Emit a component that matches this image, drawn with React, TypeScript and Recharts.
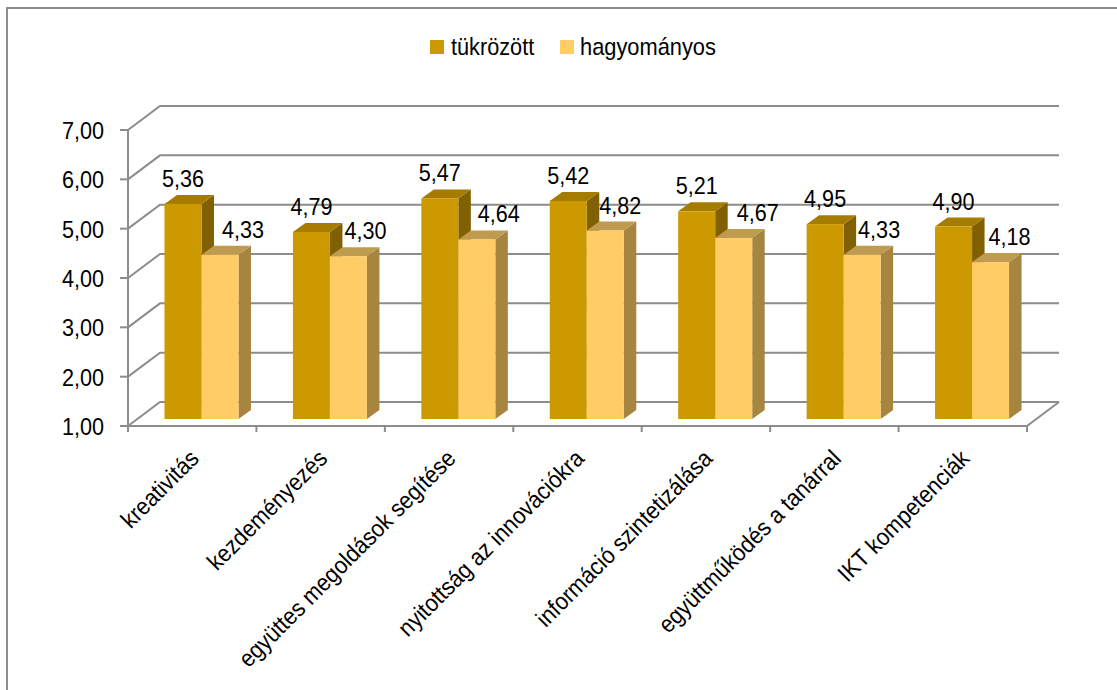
import React from 'react';
import { BarChart, Bar, XAxis, YAxis, CartesianGrid, Legend, LabelList } from 'recharts';

const categories = [
  'kreativitás',
  'kezdeményezés',
  'együttes megoldások segítése',
  'nyitottság az innovációkra',
  'információ szintetizálása',
  'együttműködés a tanárral',
  'IKT kompetenciák',
];
const tukrozott = [5.36, 4.79, 5.47, 5.42, 5.21, 4.95, 4.9];
const hagyomanyos = [4.33, 4.3, 4.64, 4.82, 4.67, 4.33, 4.18];
const yTicks = [1, 2, 3, 4, 5, 6, 7];

// Sideways nudges of the second series' value labels, so they clear the bars.
const hagyomanyosLabelShift = [23, 17, 22, 15, 24, 17, 19];

const rows = categories.map((name, i) => ({
  name,
  tukrozott: tukrozott[i],
  hagyomanyos: hagyomanyos[i],
}));

const FONT = '"Liberation Sans", Arial, sans-serif';
const TEXT_SIZE = 24;
const TEXT_SQUEEZE = 0.9;
const LINE = '#8c8c8c';

const CHART_W = 1117;
const CHART_H = 690;
const Y_AXIS_W = 128;
const RIGHT_GAP = 90;
const X_TICK_LEN = 6;
const CATEGORY_STEP = (CHART_W - Y_AXIS_W - RIGHT_GAP) / categories.length;

// Depth of the chart's box and of a bar, and where the bars stand on the floor.
const WALL_DX = 32;
const WALL_DY = 24;
const BAR_DX = 12.5;
const BAR_DY = 9;
const FLOOR_DX = 9;
const FLOOR_DY = 7;

const fmt = (v: number) => v.toFixed(2).replace('.', ',');

function Cuboid(props: any) {
  const { x, y, width, height, front, top, side } = props;
  const l = x + FLOOR_DX;
  const r = l + width;
  const t = y - FLOOR_DY;
  const b = t + height;
  return (
    <g>
      <polygon points={`${r},${t} ${r + BAR_DX},${t - BAR_DY} ${r + BAR_DX},${b - BAR_DY} ${r},${b}`} fill={side} />
      <polygon points={`${l},${t} ${l + BAR_DX},${t - BAR_DY} ${r + BAR_DX},${t - BAR_DY} ${r},${t}`} fill={top} />
      <rect x={l} y={t} width={width} height={height} fill={front} />
    </g>
  );
}

function Squeezed({ x, y, children, anchor = 'middle', angle = 0, squeeze = TEXT_SQUEEZE }: any) {
  return (
    <text
      transform={`translate(${x},${y}) rotate(${angle}) scale(${squeeze},1)`}
      textAnchor={anchor}
      fontFamily={FONT}
      fontSize={TEXT_SIZE}
      fill="#000"
    >
      {children}
    </text>
  );
}

function ValueLabel(props: any) {
  const { x, y, width, value, index, shifts } = props;
  const shift = shifts ? shifts[index] : 0;
  return (
    <Squeezed x={x + FLOOR_DX + width / 2 + shift} y={y - FLOOR_DY - 17}>
      {fmt(Number(value))}
    </Squeezed>
  );
}

// Tick marks sit on the category boundaries; the last one also closes the floor.
function CategoryTick({ x, y, payload, index }: any) {
  const axisY = y - X_TICK_LEN;
  const left = x - CATEGORY_STEP / 2;
  const right = x + CATEGORY_STEP / 2;
  const last = index === categories.length - 1;
  return (
    <g>
      <line x1={left} y1={axisY} x2={left} y2={y} stroke={LINE} strokeWidth={2} />
      {last && <line x1={right} y1={axisY} x2={right} y2={y} stroke={LINE} strokeWidth={2} />}
      {last && (
        <line x1={right} y1={axisY} x2={right + WALL_DX} y2={axisY - WALL_DY} stroke={LINE} strokeWidth={2} />
      )}
      <Squeezed x={x + 8} y={y + 28} anchor="end" angle={-45} squeeze={0.91}>
        {payload.value}
      </Squeezed>
    </g>
  );
}

function ValueTick({ x, y, payload }: any) {
  return (
    <Squeezed x={x - 14} y={y + 9} anchor="end">
      {fmt(payload.value)}
    </Squeezed>
  );
}

// A grid level runs from the axis up the side wall and along the back wall.
function WallLine({ x1, x2, y1 }: any) {
  return (
    <polyline
      points={`${x1},${y1} ${x1 + WALL_DX},${y1 - WALL_DY} ${x2 + WALL_DX},${y1 - WALL_DY}`}
      fill="none"
      stroke={LINE}
      strokeWidth={2}
    />
  );
}

function LegendBox() {
  return (
    <svg width={320} height={36} style={{ display: 'block' }}>
      <rect x={0} y={8} width={14} height={14} fill="#CC9900" />
      <Squeezed x={21} y={23} anchor="start" squeeze={0.905}>tükrözött</Squeezed>
      <rect x={130} y={8} width={14} height={14} fill="#FFCC66" />
      <Squeezed x={150} y={23} anchor="start" squeeze={0.91}>hagyományos</Squeezed>
    </svg>
  );
}

export default function App() {
  return (
    <div style={{ position: 'absolute', left: 0, top: 0, width: CHART_W, height: CHART_H, background: '#fff', overflow: 'hidden' }}>
      <div
        style={{
          position: 'absolute',
          left: 6,
          top: 7,
          right: 0,
          bottom: 0,
          borderLeft: `2px solid ${LINE}`,
          borderTop: `2px solid ${LINE}`,
          boxSizing: 'border-box',
        }}
      />
      <BarChart
        width={CHART_W}
        height={CHART_H}
        data={rows}
        margin={{ top: 94, right: RIGHT_GAP, bottom: 0, left: 0 }}
        barCategoryGap="21.4%"
        barGap={0}
        style={{ position: 'absolute', left: 0, top: 0 }}
      >
        <CartesianGrid horizontal={WallLine as any} vertical={false} />
        <XAxis
          dataKey="name"
          interval={0}
          height={264}
          tick={CategoryTick as any}
          tickSize={X_TICK_LEN}
          tickMargin={0}
          tickLine={false}
          stroke={LINE}
          strokeWidth={2}
        />
        <YAxis
          type="number"
          domain={[1, 7]}
          ticks={yTicks}
          width={Y_AXIS_W}
          tick={ValueTick as any}
          tickSize={8}
          stroke={LINE}
          strokeWidth={2}
          tickLine={{ stroke: LINE, strokeWidth: 2 }}
        />
        <Legend verticalAlign="top" content={LegendBox as any} wrapperStyle={{ position: 'absolute', left: 430, top: 32, width: 320 }} />
        <Bar
          dataKey="tukrozott"
          name="tükrözött"
          isAnimationActive={false}
          fill="#CC9900"
          shape={(p: any) => <Cuboid {...p} front="#CC9900" top="#A67C00" side="#806000" />}
        >
          <LabelList dataKey="tukrozott" content={(p: any) => <ValueLabel {...p} />} />
        </Bar>
        <Bar
          dataKey="hagyomanyos"
          name="hagyományos"
          isAnimationActive={false}
          fill="#FFCC66"
          shape={(p: any) => <Cuboid {...p} front="#FFCC66" top="#BF9B50" side="#A68540" />}
        >
          <LabelList dataKey="hagyomanyos" content={(p: any) => <ValueLabel {...p} shifts={hagyomanyosLabelShift} />} />
        </Bar>
      </BarChart>
    </div>
  );
}
